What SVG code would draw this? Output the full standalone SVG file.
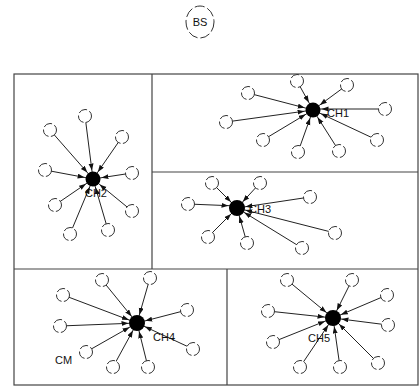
<svg xmlns="http://www.w3.org/2000/svg" width="420" height="388" viewBox="0 0 420 388">
<style>
.frame{fill:none;stroke:#444;stroke-width:1.2}
.conn{stroke:#222;stroke-width:1}
.cm{fill:#fff;stroke:#333;stroke-width:1;stroke-dasharray:9 2.5}
.ch{fill:#000}
.lbl{font-family:"Liberation Sans",Arial,sans-serif;font-size:11px;fill:#111}
</style>
<defs>
<marker id="ah" markerUnits="userSpaceOnUse" markerWidth="8" markerHeight="6" refX="15.5" refY="2.5" orient="auto">
<path d="M0,0 L7,2.5 L0,5 z" fill="#111"/>
</marker>
</defs>
<rect width="420" height="388" fill="#fff"/>
<g id="bs">
<ellipse cx="200" cy="22" rx="14" ry="16" fill="none" stroke="#333" stroke-width="1" stroke-dasharray="10 3"/>
<text class="lbl" x="200" y="26" text-anchor="middle">BS</text>
</g>
<g id="frame">
<rect class="frame" x="14" y="74" width="404" height="311"/>
<line class="frame" x1="152" y1="74" x2="152" y2="269"/>
<line class="frame" x1="152" y1="172" x2="418" y2="172"/>
<line class="frame" x1="14" y1="269" x2="418" y2="269"/>
<line class="frame" x1="227" y1="269" x2="227" y2="385"/>
</g>
<g id="connectors" marker-end="url(#ah)">
<!-- CH1 -->
<line class="conn" x1="248" y1="93" x2="313" y2="110" marker-end="url(#ah)"/>
<line class="conn" x1="297" y1="81" x2="313" y2="110" marker-end="url(#ah)"/>
<line class="conn" x1="347" y1="85" x2="313" y2="110" marker-end="url(#ah)"/>
<line class="conn" x1="226" y1="122" x2="313" y2="110" marker-end="url(#ah)"/>
<line class="conn" x1="385" y1="109" x2="313" y2="109" marker-end="url(#ah)"/>
<line class="conn" x1="377" y1="140" x2="313" y2="110" marker-end="url(#ah)"/>
<line class="conn" x1="339" y1="151" x2="313" y2="110" marker-end="url(#ah)"/>
<line class="conn" x1="298" y1="152" x2="313" y2="110" marker-end="url(#ah)"/>
<line class="conn" x1="263" y1="140" x2="313" y2="110" marker-end="url(#ah)"/>
<!-- CH2 -->
<line class="conn" x1="85" y1="116" x2="93" y2="179" marker-end="url(#ah)"/>
<line class="conn" x1="50" y1="130" x2="93" y2="179" marker-end="url(#ah)"/>
<line class="conn" x1="122" y1="137" x2="93" y2="179" marker-end="url(#ah)"/>
<line class="conn" x1="45" y1="170" x2="93" y2="179" marker-end="url(#ah)"/>
<line class="conn" x1="132" y1="173" x2="93" y2="179" marker-end="url(#ah)"/>
<line class="conn" x1="55" y1="205" x2="93" y2="179" marker-end="url(#ah)"/>
<line class="conn" x1="132" y1="211" x2="93" y2="179" marker-end="url(#ah)"/>
<line class="conn" x1="70" y1="234" x2="93" y2="179" marker-end="url(#ah)"/>
<line class="conn" x1="108" y1="230" x2="93" y2="179" marker-end="url(#ah)"/>
<!-- CH3 -->
<line class="conn" x1="212" y1="183" x2="237" y2="208" marker-end="url(#ah)"/>
<line class="conn" x1="260" y1="183" x2="237" y2="208" marker-end="url(#ah)"/>
<line class="conn" x1="310" y1="197" x2="237" y2="208" marker-end="url(#ah)"/>
<line class="conn" x1="188" y1="204" x2="237" y2="206" marker-end="url(#ah)"/>
<line class="conn" x1="335" y1="233" x2="237" y2="208" marker-end="url(#ah)"/>
<line class="conn" x1="208" y1="237" x2="237" y2="208" marker-end="url(#ah)"/>
<line class="conn" x1="247" y1="243" x2="237" y2="208" marker-end="url(#ah)"/>
<line class="conn" x1="302" y1="248" x2="237" y2="208" marker-end="url(#ah)"/>
<!-- CH4 -->
<line class="conn" x1="102" y1="280" x2="137" y2="323" marker-end="url(#ah)"/>
<line class="conn" x1="150" y1="278" x2="137" y2="323" marker-end="url(#ah)"/>
<line class="conn" x1="63" y1="295" x2="137" y2="323" marker-end="url(#ah)"/>
<line class="conn" x1="187" y1="310" x2="137" y2="323" marker-end="url(#ah)"/>
<line class="conn" x1="60" y1="326" x2="137" y2="323" marker-end="url(#ah)"/>
<line class="conn" x1="193" y1="349" x2="137" y2="323" marker-end="url(#ah)"/>
<line class="conn" x1="86" y1="352" x2="137" y2="323" marker-end="url(#ah)"/>
<line class="conn" x1="113" y1="367" x2="137" y2="323" marker-end="url(#ah)"/>
<line class="conn" x1="148" y1="367" x2="137" y2="323" marker-end="url(#ah)"/>
<!-- CH5 -->
<line class="conn" x1="287" y1="280" x2="333" y2="318" marker-end="url(#ah)"/>
<line class="conn" x1="352" y1="280" x2="333" y2="318" marker-end="url(#ah)"/>
<line class="conn" x1="387" y1="295" x2="333" y2="318" marker-end="url(#ah)"/>
<line class="conn" x1="268" y1="311" x2="333" y2="318" marker-end="url(#ah)"/>
<line class="conn" x1="388" y1="325" x2="333" y2="318" marker-end="url(#ah)"/>
<line class="conn" x1="273" y1="342" x2="333" y2="318" marker-end="url(#ah)"/>
<line class="conn" x1="378" y1="363" x2="333" y2="318" marker-end="url(#ah)"/>
<line class="conn" x1="300" y1="367" x2="333" y2="318" marker-end="url(#ah)"/>
<line class="conn" x1="340" y1="367" x2="333" y2="318" marker-end="url(#ah)"/>
</g>
<g id="cluster1">
<circle class="cm" cx="248" cy="93" r="6.5"/>
<circle class="cm" cx="297" cy="81" r="6.5"/>
<circle class="cm" cx="347" cy="85" r="6.5"/>
<circle class="cm" cx="226" cy="122" r="6.5"/>
<circle class="cm" cx="385" cy="109" r="6.5"/>
<circle class="cm" cx="377" cy="140" r="6.5"/>
<circle class="cm" cx="339" cy="151" r="6.5"/>
<circle class="cm" cx="298" cy="152" r="6.5"/>
<circle class="cm" cx="263" cy="140" r="6.5"/>
</g>
<g id="ch1">
<circle class="ch" cx="313" cy="110" r="7.5"/>
<text class="lbl" x="327" y="117">CH1</text>
</g>
<g id="cluster2">
<circle class="cm" cx="85" cy="116" r="6.5"/>
<circle class="cm" cx="50" cy="130" r="6.5"/>
<circle class="cm" cx="122" cy="137" r="6.5"/>
<circle class="cm" cx="45" cy="170" r="6.5"/>
<circle class="cm" cx="132" cy="173" r="6.5"/>
<circle class="cm" cx="55" cy="205" r="6.5"/>
<circle class="cm" cx="132" cy="211" r="6.5"/>
<circle class="cm" cx="70" cy="234" r="6.5"/>
<circle class="cm" cx="108" cy="230" r="6.5"/>
</g>
<g id="ch2">
<circle class="ch" cx="93" cy="179" r="7.5"/>
<text class="lbl" x="96" y="197" text-anchor="middle">CH2</text>
</g>
<g id="cluster3">
<circle class="cm" cx="212" cy="183" r="6.5"/>
<circle class="cm" cx="260" cy="183" r="6.5"/>
<circle class="cm" cx="310" cy="197" r="6.5"/>
<circle class="cm" cx="188" cy="204" r="6.5"/>
<circle class="cm" cx="335" cy="233" r="6.5"/>
<circle class="cm" cx="208" cy="237" r="6.5"/>
<circle class="cm" cx="247" cy="243" r="6.5"/>
<circle class="cm" cx="302" cy="248" r="6.5"/>
</g>
<g id="ch3">
<circle class="ch" cx="237" cy="208" r="8"/>
<text class="lbl" x="249" y="213">CH3</text>
</g>
<g id="cluster4">
<circle class="cm" cx="102" cy="280" r="6.5"/>
<circle class="cm" cx="150" cy="278" r="6.5"/>
<circle class="cm" cx="63" cy="295" r="6.5"/>
<circle class="cm" cx="187" cy="310" r="6.5"/>
<circle class="cm" cx="60" cy="326" r="6.5"/>
<circle class="cm" cx="193" cy="349" r="6.5"/>
<circle class="cm" cx="86" cy="352" r="6.5"/>
<circle class="cm" cx="113" cy="367" r="6.5"/>
<circle class="cm" cx="148" cy="367" r="6.5"/>
</g>
<g id="ch4">
<circle class="ch" cx="137" cy="323" r="8"/>
<text class="lbl" x="153" y="341">CH4</text>
</g>
<g id="cm-label">
<text class="lbl" x="55" y="364" font-size="10">CM</text>
</g>
<g id="cluster5">
<circle class="cm" cx="287" cy="280" r="6.5"/>
<circle class="cm" cx="352" cy="280" r="6.5"/>
<circle class="cm" cx="387" cy="295" r="6.5"/>
<circle class="cm" cx="268" cy="311" r="6.5"/>
<circle class="cm" cx="388" cy="325" r="6.5"/>
<circle class="cm" cx="273" cy="342" r="6.5"/>
<circle class="cm" cx="378" cy="363" r="6.5"/>
<circle class="cm" cx="300" cy="367" r="6.5"/>
<circle class="cm" cx="340" cy="367" r="6.5"/>
</g>
<g id="ch5">
<circle class="ch" cx="333" cy="318" r="8"/>
<text class="lbl" x="308" y="342">CH5</text>
</g>
</svg>
